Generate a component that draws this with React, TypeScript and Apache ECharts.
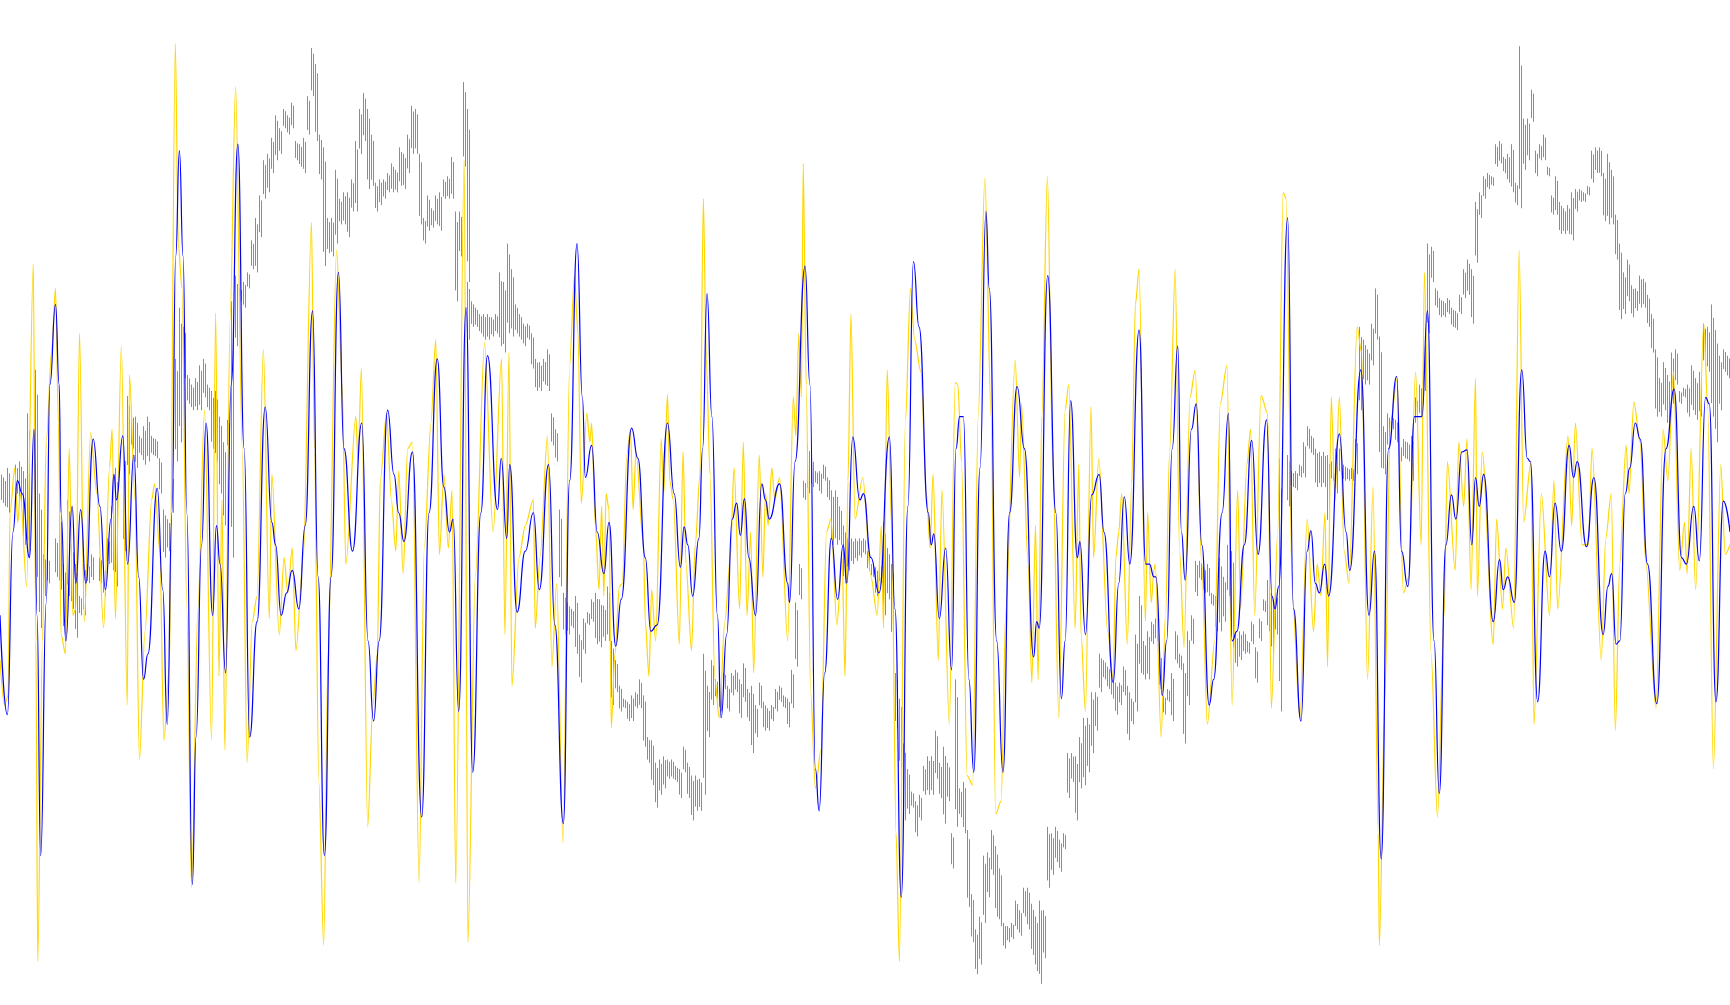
import React, { useEffect, useRef } from "react";
import * as echarts from "echarts";

// Readings are [position, level] pairs, taken panel by panel across the trace.
const bluePanel1 = [0,960,20,1115,35,830,47,750,60,770,80,870,92,670,100,960,110,1335,125,940,135,600,150,475,160,600,165,800,178,1000,195,790,205,910,218,795,232,910,252,685,270,790,285,920,300,810,308,740,315,780,332,680,345,880,362,710,375,900,388,1060,400,1020,425,762,440,920,452,1130,465,800,475,400,485,235,495,400,505,800,520,1380,530,1150,545,850,557,660,575,960,585,820,595,880,610,1050,625,600,643,225,660,700,675,1150,695,970,717,635,735,815,745,850,760,960,775,925,790,890,808,950,825,820,845,485,860,900,877,1335,895,900,915,425,930,700,953,860,978,660,995,1000,1010,1125,1025,1000,1048,640,1065,740,1078,800,1092,845,1115,705,1140,1275,1160,800,1182,560,1200,760,1215,830,1225,810,1240,1110,1260,480,1278,1205,1300,800,1318,555,1345,795,1355,715,1370,840,1378,725,1398,955,1420,860,1442,800,1458,920,1483,725,1500,975,1523,1285,1540,750,1560,380];
const bluePanel2 = [20,620,28,745,45,695,60,830,78,895,92,815,110,1008,125,935,153,668,170,715,190,870,205,985,222,975,250,660,268,770,285,885,295,822,305,850,318,930,335,840,345,700,357,458,370,650,385,960,395,1120,410,990,425,810,437,785,447,835,458,778,470,870,488,960,505,755,515,780,525,810,553,755,575,910,580,940,595,720,622,415,635,600,650,1200,660,1265,675,1050,693,840,710,935,725,850,735,910,751,682,770,780,780,770,800,870,822,925,850,682,865,950,882,1400,900,790,915,408,930,510,955,800,963,850,970,833,985,965,1002,855,1018,1045,1030,700,1040,650,1050,650,1065,1060,1078,1205,1095,730,1111,330,1120,450,1140,1000,1157,1205,1175,800,1195,603,1215,700,1240,1025,1248,970,1255,980,1278,430,1300,800,1315,1090,1325,1000,1340,625,1358,870,1365,845,1380,990,1397,772,1417,740,1430,830,1455,1065,1470,910,1485,775,1500,880,1525,515,1543,880,1553,880,1565,900];
const bluePanel3 = [16,900,33,1085,45,1000,60,700,75,540,85,830,95,905,112,670,125,630,140,850,160,1100,172,1060,195,800,212,645,222,1000,235,985,255,850,275,687,292,865,315,655,330,930,338,950,348,915,372,340,388,950,408,1125,425,860,435,828,447,910,458,925,472,880,483,930,512,677,530,830,540,890,570,577,592,960,607,860,625,1340,645,700,667,587,680,860,697,915,715,650,735,650,750,485,768,1000,782,1238,800,850,815,772,827,810,843,705,857,702,870,850,880,745,890,790,902,740,928,970,945,873,955,920,967,900,985,940,1005,577,1020,715,1028,720,1048,1095,1068,860,1080,900,1095,785,1112,860,1133,695,1145,745,1155,720,1180,853,1200,745,1225,990,1238,915,1248,895,1260,1005,1270,1000,1285,770,1297,730,1312,660,1325,685,1345,880,1370,1098,1395,700,1417,607,1437,870,1450,880,1470,790,1485,875,1502,620,1512,630,1530,1095,1550,782,1568,830];

const yellowPanel1 = [0,1030,12,1100,22,1085,27,800,40,730,48,815,55,770,72,915,90,412,97,1000,102,1500,115,1000,125,690,140,545,150,450,158,660,165,990,177,1020,187,700,197,960,205,950,215,520,228,970,245,675,262,770,280,980,296,730,303,670,312,965,328,540,344,1100,350,585,365,780,377,1185,392,985,410,780,418,755,432,860,443,1155,458,1040,474,68,482,380,492,450,505,950,518,1385,535,950,553,640,572,1155,583,488,592,1055,600,780,608,1170,622,500,637,135,655,700,668,1190,682,970,695,930,712,545,728,965,735,740,755,990,768,870,778,925,790,855,800,1015,820,870,842,347,850,700,862,1220,875,1475,887,1020,910,390,925,600,935,880,962,650,968,720,977,575,994,1290,1008,1100,1020,1020,1028,750,1045,645,1058,780,1070,860,1078,735,1090,895,1102,700,1115,690,1133,1378,1147,855,1165,660,1178,530,1188,865,1200,740,1212,855,1222,765,1232,1378,1255,250,1265,1470,1285,900,1310,535,1333,830,1356,560,1365,990,1376,550,1384,1070,1403,870,1420,820,1442,780,1447,980,1460,870,1480,680,1492,1040,1505,910,1522,1315,1540,570,1553,430];
const yellowPanel2 = [8,520,17,785,32,645,40,690,45,660,55,820,65,920,72,790,78,930,84,770,92,795,98,1135,108,1020,120,915,128,910,140,710,150,670,157,795,165,705,185,850,190,970,200,1055,207,920,218,1000,233,685,240,770,250,615,256,750,266,780,282,1005,292,705,300,880,315,1015,325,850,338,740,347,310,355,560,365,740,378,1060,390,1120,405,970,420,870,430,730,445,950,455,690,465,960,475,830,483,1050,498,710,508,900,515,770,522,820,532,730,540,780,553,745,575,1000,590,620,597,680,605,520,612,620,617,255,625,600,637,1080,650,1230,665,1170,680,830,692,810,708,975,722,870,730,1055,738,750,746,490,757,810,778,745,800,900,817,960,828,820,834,980,844,577,856,820,868,1300,877,1500,893,660,907,450,918,530,935,580,950,770,960,855,968,740,982,1030,992,765,1012,1130,1028,597,1035,600,1045,720,1060,1210,1075,1225,1090,650,1108,278,1125,650,1137,1270,1152,1250,1165,950,1190,562,1202,745,1207,630,1225,880,1235,1065,1245,820,1252,1060,1262,650,1277,275,1292,730,1308,1120,1325,640,1335,600,1352,980,1362,725,1368,990,1380,1110,1395,635,1402,870,1416,715,1440,985,1455,1060,1462,870,1470,830,1478,770,1493,1005,1505,755,1515,475,1525,420,1542,970,1548,800,1558,940,1565,890];
const yellowPanel3 = [14,880,30,1150,42,960,53,705,68,420,80,860,92,1010,108,620,122,578,140,880,155,1130,175,1000,190,630,208,570,222,1100,237,765,245,950,262,725,272,670,283,960,300,617,318,645,328,1105,345,835,360,300,368,310,385,930,405,1120,425,810,442,985,452,880,462,930,473,800,480,1040,490,620,500,780,512,620,525,860,538,910,560,510,572,550,588,1060,603,760,617,1300,620,1475,635,1090,650,660,668,590,685,925,700,900,718,580,733,850,742,425,760,1020,777,1275,795,960,804,720,825,890,835,690,848,790,857,685,868,920,880,590,885,930,898,705,928,1005,937,810,953,950,962,855,983,980,998,390,1010,815,1030,720,1038,1130,1058,770,1080,960,1092,750,1102,950,1130,680,1140,820,1150,660,1168,850,1185,850,1195,700,1220,1030,1232,840,1247,770,1258,1140,1270,880,1287,695,1295,770,1308,627,1325,690,1340,875,1368,1105,1387,670,1400,750,1415,580,1432,890,1445,815,1452,895,1463,700,1475,920,1497,505,1508,640,1523,1200,1543,725,1555,865,1568,850];

// Green range bars: [position, high, low] triples.
const greenPanel1 = [5,735,780,16,745,790,27,730,800,38,725,770,49,720,790,60,735,830,70,740,850,81,645,870,92,577,900,103,770,980,113,910,950,124,865,930,135,870,910,146,840,900,157,840,880,167,800,920,178,880,990,189,780,930,200,850,950,210,880,995,221,930,960,232,880,960,243,880,910,254,865,905,265,870,905,275,880,910,286,885,930,297,840,880,308,790,890,319,730,915,330,700,860,340,770,850,351,618,740,362,645,700,373,650,730,383,680,710,394,665,725,405,650,720,416,680,710,427,685,715,437,715,770,448,795,870,459,810,860,470,740,800,481,560,720,491,480,690,502,510,590,513,585,630,524,600,640,535,590,640,545,570,640,556,560,620,567,600,640,578,610,700,589,610,720,599,650,770,610,690,820,621,655,700,632,470,870,643,430,540,654,450,470,664,440,480,675,425,450,686,375,420,697,340,425,707,305,370,718,250,310,729,240,300,740,215,270,751,180,250,762,200,240,773,170,200,783,180,210,794,160,200,805,220,250,816,225,260,827,215,270,837,150,210,848,75,150,859,100,220,870,210,280,875,230,415,886,340,395,897,340,400,907,265,380,918,310,350,929,300,350,940,300,370,951,280,330,961,220,330,972,170,240,983,145,220,994,170,295,1005,210,290,1016,285,330,1027,280,320,1038,280,310,1048,270,300,1059,255,300,1070,265,300,1081,230,290,1092,240,295,1102,210,270,1113,165,240,1124,170,240,1134,240,350,1145,340,380,1156,305,360,1167,325,355,1178,305,350,1188,300,360,1199,280,310,1210,275,310,1221,245,310,1232,330,470,1243,330,400,1254,128,260,1264,170,440,1270,440,530,1281,470,510,1292,480,510,1303,490,520,1313,490,530,1324,490,530,1335,495,525,1346,490,520,1356,425,540,1367,440,550,1378,380,520,1389,420,525,1400,475,520,1410,490,530,1421,505,540,1432,505,530,1443,520,575,1454,560,610,1464,565,610,1475,560,600,1486,545,610,1497,645,695,1508,670,720,1518,795,915,1529,925,990,1540,940,990,1551,950,980,1562,930,1020];
const greenPanel2 = [16,990,1065,27,965,1020,38,955,975,49,935,970,59,925,1005,70,935,1010,81,945,1000,92,915,1000,103,1000,1100,113,1030,1080,124,1070,1110,135,1090,1105,146,1095,1125,157,1085,1125,167,1080,1105,178,1060,1105,189,1085,1165,200,1150,1190,211,1155,1225,221,1190,1260,232,1185,1240,243,1180,1230,254,1185,1215,264,1185,1215,275,1195,1220,286,1200,1245,297,1165,1205,308,1190,1245,319,1210,1280,329,1210,1265,340,1215,1265,350,1020,1240,361,1070,1150,372,1030,1100,383,1060,1090,394,1050,1110,405,1050,1075,416,1070,1110,427,1050,1085,438,1045,1080,448,1060,1120,459,1035,1095,470,1075,1125,481,1070,1175,492,1100,1150,502,1065,1105,513,1095,1140,524,1105,1140,535,1100,1125,546,1075,1110,556,1070,1095,567,1085,1105,578,1090,1135,589,1045,1105,600,940,1040,611,880,935,622,750,780,632,695,770,643,715,760,654,735,755,665,735,770,676,725,750,686,745,780,697,765,850,708,765,850,719,790,850,730,820,910,741,840,890,751,840,880,762,840,875,773,840,870,784,840,865,795,860,890,805,880,900,816,885,930,827,880,910,838,815,960,849,855,935,860,880,1000,870,1050,1135,877,1090,1200,887,1160,1280,898,1200,1270,909,1235,1260,920,1250,1305,931,1240,1280,941,1195,1240,952,1180,1240,963,1180,1240,974,1140,1215,985,1190,1245,996,1165,1285,1006,1190,1250,1017,1300,1355,1028,1060,1290,1039,1230,1275,1050,1220,1300,1060,1295,1415,1071,1395,1470,1082,1450,1520,1092,1430,1505,1103,1335,1440,1114,1330,1400,1125,1295,1365,1135,1320,1430,1146,1355,1445,1157,1440,1480,1168,1445,1470,1179,1440,1465,1190,1405,1450,1200,1420,1460,1211,1385,1430,1222,1385,1450,1233,1410,1490,1244,1430,1515,1254,1405,1535,1265,1420,1495,1276,1290,1385,1287,1300,1365,1298,1290,1345,1308,1310,1360,1319,1300,1325,1330,1175,1245,1341,1175,1220,1352,1180,1280,1362,1150,1230,1373,1120,1225,1384,1120,1205,1395,1080,1175,1406,1080,1140,1416,1020,1080,1427,1030,1060,1438,1040,1075,1449,1035,1090,1460,1065,1115,1470,1065,1100,1481,1040,1085,1492,1070,1155,1503,1090,1130,1514,990,1110,1524,930,1050,1535,1000,1060,1546,985,1060,1557,970,1005];
const greenPanel3 = [14,965,1000,25,1020,1075,36,1085,1115,47,1075,1095,58,1050,1125,68,985,1035,79,1020,1045,90,1035,1160,100,985,1100,111,960,1005,122,875,930,133,875,905,144,885,925,155,880,930,165,925,945,176,930,985,187,870,985,198,900,970,209,850,930,219,860,1010,230,990,1040,241,985,1030,252,985,1020,263,1000,1020,273,970,1005,286,1010,1065,297,965,1000,308,935,955,319,905,985,330,925,1020,340,925,990,355,715,1110,371,710,790,381,735,760,392,735,765,403,725,745,414,690,745,425,665,700,436,680,710,446,700,760,457,705,760,468,705,760,479,710,825,490,720,750,500,700,770,511,700,740,522,725,750,533,730,750,544,730,750,554,685,740,565,510,640,576,530,600,587,545,600,598,505,570,609,450,530,620,525,730,631,665,740,642,645,700,652,650,670,663,655,690,674,695,720,685,685,715,696,690,720,706,680,750,717,620,665,728,600,650,738,530,610,749,380,520,760,385,440,771,450,480,782,465,495,792,470,495,803,465,490,814,480,510,825,485,515,835,460,490,846,420,465,857,405,460,868,420,505,878,315,410,889,300,340,900,275,310,911,270,295,922,275,290,933,225,260,944,220,255,954,245,270,965,240,285,976,225,300,987,285,320,998,72,325,1009,185,265,1020,185,250,1030,140,190,1041,235,275,1052,225,250,1063,210,250,1073,260,275,1084,305,335,1095,275,335,1106,315,365,1116,325,365,1127,320,365,1138,300,375,1149,295,330,1160,295,315,1170,300,315,1181,290,305,1192,235,285,1203,230,270,1214,230,275,1225,270,345,1235,240,350,1246,265,350,1257,335,405,1268,380,498,1278,425,490,1289,405,470,1300,445,495,1311,450,485,1321,430,480,1332,435,480,1343,460,510,1354,490,550,1365,545,650,1376,590,650,1387,565,640,1398,585,670,1409,550,630,1420,545,600,1431,610,630,1442,605,620,1452,600,650,1463,570,640,1474,590,655,1485,580,650,1496,505,570,1507,510,580,1518,475,650,1529,515,690,1540,555,640,1551,545,580,1562,555,590];

const panelStarts = [0, 1554.5, 3109];
const xSpan = 4677;
const ySpan = 1568;

function joinPanels(panels: number[][], size: number): number[][] {
  const rows: number[][] = [];
  panels.forEach((panel, p) => {
    for (let i = 0; i + size <= panel.length; i += size) {
      const x = panel[i] + panelStarts[p];
      if (rows.length && x <= rows[rows.length - 1][0]) continue;
      rows.push([x, ...panel.slice(i + 1, i + size)]);
    }
  });
  return rows;
}

export default function App() {
  const ref = useRef<HTMLDivElement>(null);
  useEffect(() => {
    const chart = echarts.init(ref.current!, null, { renderer: "svg" });
    chart.setOption({
      animation: false,
      backgroundColor: "#ffffff",
      grid: { left: 0, right: 0, top: 0, bottom: 0 },
      xAxis: { type: "value", min: 0, max: xSpan, show: false },
      yAxis: { type: "value", min: 0, max: ySpan, inverse: true, show: false },
      series: [
        {
          name: "range",
          type: "custom",
          data: joinPanels([greenPanel1, greenPanel2, greenPanel3], 3),
          encode: { x: 0, y: [1, 2] },
          renderItem: (_: any, api: any) => {
            const top = api.coord([api.value(0), api.value(1)]);
            const bottom = api.coord([api.value(0), api.value(2)]);
            const px = Math.round(top[0] / 4) * 4;
            const stagger = (bottom[1] - top[1]) * 0.12;
            const style = { stroke: "#00f000", lineWidth: 1 };
            return {
              type: "group",
              children: [
                { type: "line", shape: { x1: px - 0.5, y1: top[1], x2: px - 0.5, y2: bottom[1] - stagger }, style },
                { type: "line", shape: { x1: px + 1.5, y1: top[1] + stagger, x2: px + 1.5, y2: bottom[1] }, style },
              ],
            };
          },
        },
        {
          name: "fast",
          type: "line",
          data: joinPanels([yellowPanel1, yellowPanel2, yellowPanel3], 2),
          showSymbol: false,
          smooth: 0.3,
          smoothMonotone: "x",
          lineStyle: { color: "#ffd700", width: 1.2 },
          itemStyle: { color: "#ffd700" },
        },
        {
          name: "slow",
          type: "line",
          data: joinPanels([bluePanel1, bluePanel2, bluePanel3], 2),
          showSymbol: false,
          smooth: 0.5,
          smoothMonotone: "x",
          lineStyle: { color: "#0000ff", width: 1.2 },
          itemStyle: { color: "#0000ff" },
        },
      ],
    });
    return () => chart.dispose();
  }, []);
  return (
    <>
      <style>{`html,body{margin:0;background:#fff}`}</style>
      <div id="chart" ref={ref} style={{ position: "fixed", left: 0, top: 0, width: 1730, height: 1005 }} />
    </>
  );
}
